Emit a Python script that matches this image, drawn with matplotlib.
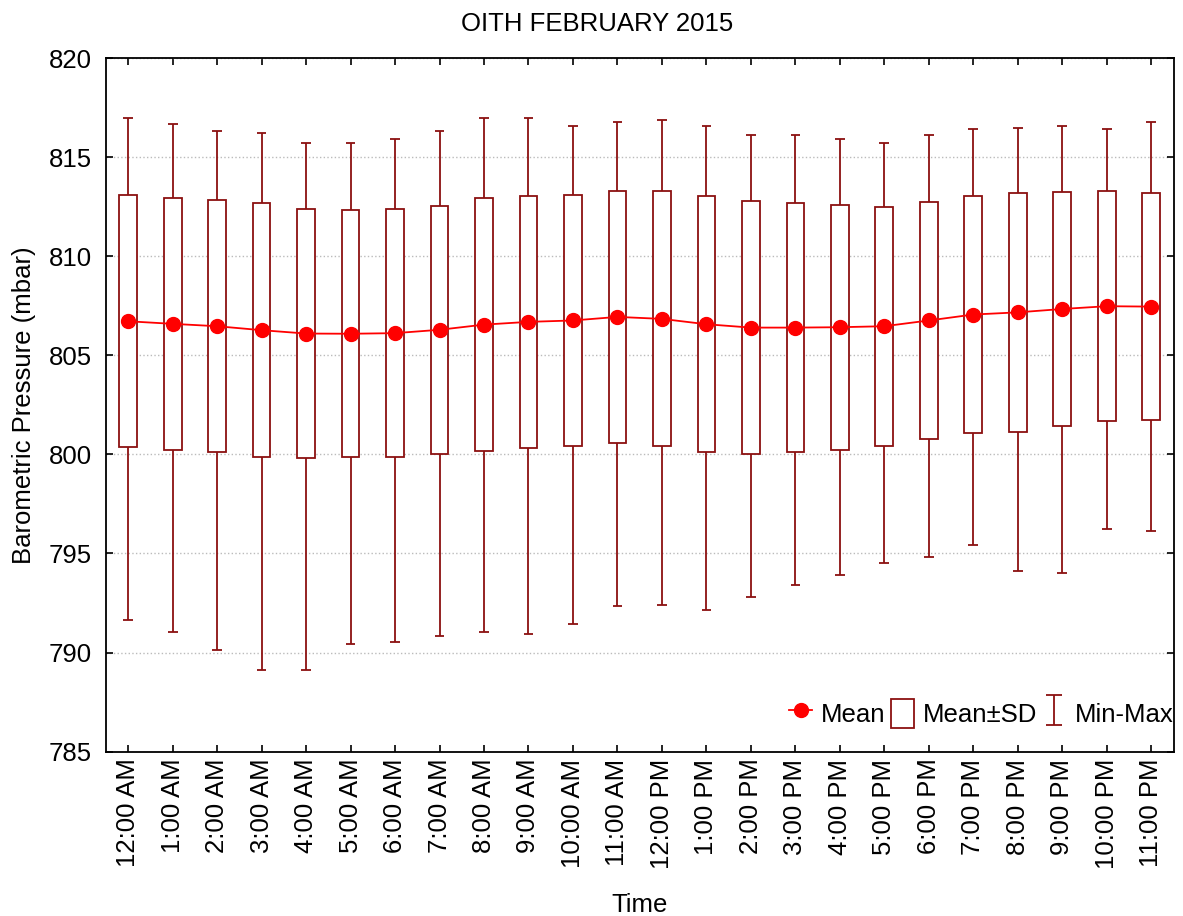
import numpy as np
import matplotlib.pyplot as plt
from matplotlib.lines import Line2D
from matplotlib.patches import Rectangle
from matplotlib.path import Path

plt.rcParams['font.family'] = ['Liberation Sans', 'DejaVu Sans']

# hourly barometric pressure summary, mbar
hours = ['12:00 AM', '1:00 AM', '2:00 AM', '3:00 AM', '4:00 AM', '5:00 AM',
         '6:00 AM', '7:00 AM', '8:00 AM', '9:00 AM', '10:00 AM', '11:00 AM',
         '12:00 PM', '1:00 PM', '2:00 PM', '3:00 PM', '4:00 PM', '5:00 PM',
         '6:00 PM', '7:00 PM', '8:00 PM', '9:00 PM', '10:00 PM', '11:00 PM']
mean = [806.72, 806.59, 806.47, 806.27, 806.10, 806.09, 806.12, 806.29,
        806.55, 806.69, 806.76, 806.94, 806.84, 806.57, 806.40, 806.40,
        806.42, 806.47, 806.76, 807.06, 807.17, 807.34, 807.48, 807.46]
sd = [6.36, 6.35, 6.37, 6.40, 6.30, 6.24, 6.25, 6.26, 6.37, 6.35, 6.34, 6.35,
      6.44, 6.46, 6.39, 6.27, 6.18, 6.04, 6.00, 5.99, 6.02, 5.91, 5.81, 5.74]
pmin = [791.65, 791.03, 790.15, 789.14, 789.14, 790.44, 790.54, 790.84,
        791.03, 790.93, 791.43, 792.34, 792.42, 792.13, 792.82, 793.42,
        793.93, 794.53, 794.84, 795.44, 794.13, 794.03, 796.25, 796.13]
pmax = [817.0, 816.7, 816.3, 816.2, 815.7, 815.7, 815.9, 816.3, 817.0, 817.0,
        816.6, 816.8, 816.9, 816.6, 816.1, 816.1, 815.9, 815.7, 816.1, 816.4,
        816.5, 816.6, 816.4, 816.8]

dark = '#8B1010'
red = '#FF0000'
fs = 18.5

fig = plt.figure(figsize=(11.83, 9.16), dpi=100)
ax = fig.add_axes([0.0895, 0.1795, 0.9025, 0.757])

x = np.arange(len(hours))
mean = np.array(mean)
sd = np.array(sd)

# whiskers + caps
ax.vlines(x, pmin, pmax, color=dark, lw=1.3, zorder=2)
ax.hlines(pmin, x - 0.11, x + 0.11, color=dark, lw=1.3, zorder=2)
ax.hlines(pmax, x - 0.11, x + 0.11, color=dark, lw=1.3, zorder=2)

# mean +/- sd boxes
ax.bar(x, 2 * sd, bottom=mean - sd, width=0.4, facecolor='white',
       edgecolor=dark, linewidth=1.3, zorder=3)

# mean line
ax.plot(x, mean, '-o', color=red, lw=1.3, markersize=10, zorder=4)

ax.set_xlim(-0.5, len(hours) - 0.5)
ax.set_ylim(785, 820)
ax.set_yticks(np.arange(785, 821, 5))
ax.set_xticks(x)
ax.set_xticklabels(hours, rotation=90)
ax.tick_params(axis='both', direction='in', length=5, width=1.2,
               labelsize=fs, top=True, right=True)
ax.tick_params(axis='y', pad=10)
ax.tick_params(axis='x', pad=5)
ax.yaxis.grid(True, linestyle=':', color='#bbbbbb', lw=1)
ax.set_axisbelow(True)
for s in ax.spines.values():
    s.set_linewidth(1.3)

ax.set_xlabel('Time', fontsize=fs, labelpad=17)
ax.set_ylabel('Barometric Pressure (mbar)', fontsize=fs, labelpad=9)
fig.text(0.505, 0.974, 'OITH FEBRUARY 2015', ha='center', va='center',
         fontsize=fs)

# legend
imark = Path([(-0.5, 1), (0.5, 1), (0, 1), (0, -1), (-0.5, -1), (0.5, -1)],
             [Path.MOVETO, Path.LINETO, Path.MOVETO, Path.LINETO,
              Path.MOVETO, Path.LINETO])
h_mean = Line2D([], [], color=red, marker='o', lw=1.3, markersize=10)
h_box = Rectangle((0, 0), 1, 1, facecolor='white', edgecolor=dark, lw=1.3)
h_mm = Line2D([], [], ls='none', marker=imark, markersize=22,
              markeredgecolor=dark, markerfacecolor='none', mew=1.3)
ax.legend([h_mean, h_box, h_mm], ['Mean', 'Mean±SD', 'Min-Max'],
          loc='lower right', ncol=3, frameon=False, fontsize=fs,
          handlelength=0.9, handleheight=1.4, handletextpad=0.35,
          columnspacing=0.2, borderaxespad=0.1, bbox_to_anchor=(1.012, 0.015))

fig.savefig('out.png', dpi=100)
